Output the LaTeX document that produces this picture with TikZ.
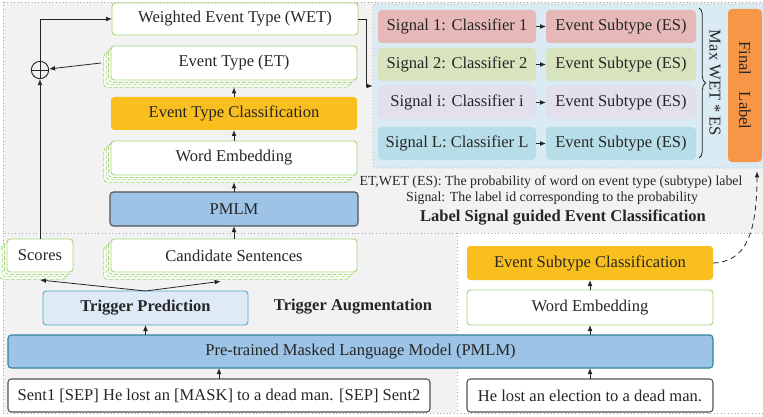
\documentclass[tikz,border=0pt]{standalone}
\usepackage{fontspec}
\setmainfont{Liberation Serif}
\usetikzlibrary{arrows.meta,decorations.pathreplacing}

\definecolor{areagray}{HTML}{F2F2F2}
\definecolor{areablue}{HTML}{DAEBF3}
\definecolor{linegreen}{HTML}{A3D67A}
\definecolor{clsorange}{HTML}{F9BF1E}
\definecolor{lmblue}{HTML}{9DC3E6}
\definecolor{lmedge}{HTML}{31849B}
\definecolor{tpfill}{HTML}{DEEBF7}
\definecolor{tpedge}{HTML}{4BACC6}
\definecolor{sigred}{HTML}{E6B9B8}
\definecolor{siggreen}{HTML}{D7E4BD}
\definecolor{sigviolet}{HTML}{E4DFEC}
\definecolor{sigcyan}{HTML}{B7DEE8}
\definecolor{finalorange}{HTML}{F79646}
\definecolor{ink}{HTML}{262626}

\tikzset{
  every node/.style={text=ink},
  box/.style={rectangle, rounded corners=2.5pt, inner sep=0pt, outer sep=0pt,
    font=\fontsize{12.4}{14}\selectfont},
  wd/.style={minimum width={0.75*#1}},
  ht/.style={minimum height={0.75*#1}},
  gbox/.style={box, draw=linegreen, fill=white, line width=0.7pt},
  obox/.style={box, fill=clsorange},
  lmbox/.style={box, fill=lmblue, draw=#1, line width=0.8pt},
  sentbox/.style={box, fill=white, draw=ink!80, line width=0.8pt},
  sigbox/.style={box, fill=#1, rounded corners=3pt},
  layer/.style={draw=linegreen, fill=white, line width=0.6pt,
    dash pattern=on 3pt off 1.2pt, rounded corners=2.5pt},
  area/.style={draw=black!35, line width=0.6pt, dotted},
  arr/.style={-{Latex[length=4.5pt,width=3.6pt]}, line width=0.6pt, draw=ink},
  note/.style={inner sep=0pt, font=\fontsize{10.4}{12}\selectfont},
  heading/.style={inner sep=0pt, font=\fontsize{12.4}{14}\selectfont\bfseries}
}

% dashed copies stacked behind a box given by its corners
\newcommand{\layerbox}[4]{%
  \foreach \k in {3,2,1}
    \draw[layer, shift={(-2.4*\k,2.4*\k)}] (#1,#2) rectangle (#3,#4);%
}

\begin{document}
\begin{tikzpicture}[x=0.75pt,y=-0.75pt]
\useasboundingbox (0,0) rectangle (763,417);

% areas
\draw[area, fill=areagray] (3,2) rectangle (766,233);
\draw[area, fill=areagray] (3,233) rectangle (457,413);
\draw[area, fill=white] (457,233) rectangle (766,413);
\node[area, fill=areablue, rounded corners=2pt, inner sep=0pt, wd=393, ht=164] (sigarea) at (569.5,86) {};

% event type branch
\node[gbox, wd=246, ht=32] (wet) at (235,19) {Weighted Event Type (WET)};
\layerbox{111}{46}{357}{80}
\node[gbox, wd=246, ht=34] (et) at (234,63) {Event Type (ET)};
\node[obox, wd=246, ht=33] (etc) at (234,113.5) {Event Type Classification};
\layerbox{111}{141}{357}{175}
\node[gbox, wd=246, ht=34] (we) at (234,158) {Word Embedding};
\node[lmbox=ink!80, wd=248, ht=34] (pmlm) at (234,209) {PMLM};

% weighting
\node[draw=ink, line width=0.7pt, circle, minimum size=13pt, inner sep=0pt] (sum) at (40,70) {};
\draw[line width=0.7pt, draw=ink] (sum.north) -- (sum.south) (sum.west) -- (sum.east);

% label signals
\foreach \n/\yy/\c/\s in {1/26.5/sigred/1, 2/64.5/siggreen/2, 3/102.5/sigviolet/i, 4/143.5/sigcyan/L}{
  \node[sigbox=\c, wd=158, ht=33] (sig\n) at (457,\yy) {Signal \s: Classifier \s};
  \node[sigbox=\c, wd=150, ht=33] (es\n) at (621,\yy) {Event Subtype (ES)};
  \draw[arr] (sig\n) -- (es\n);
}
\draw[decorate, decoration={brace, amplitude=5pt}, line width=0.6pt, draw=ink] (699,8) -- (699,158);
\node[box, rotate=-90] (maxes) at (715,83) {Max WET * ES};
\node[box, fill=finalorange, rounded corners=3pt, rotate=-90, wd=153, ht=34] (final) at (745,85.5) {Final\quad Label};

% notes
\node[note] (note1) at (551,182) {ET,WET (ES): The probability of word on event type (subtype) label};
\node[note] (note2) at (552,198) {Signal: The label id corresponding to the probability};
\node[heading] (lsec) at (563,218) {Label Signal guided Event Classification};

% trigger augmentation
\layerbox{7}{239}{73}{272}
\node[gbox, wd=66, ht=33] (scores) at (40,255.5) {Scores};
\layerbox{111}{239}{357}{272}
\node[gbox, wd=246, ht=33] (cand) at (234,255.5) {Candidate Sentences};
\node[box, fill=tpfill, draw=tpedge, line width=0.7pt, wd=205, ht=34,
  font=\fontsize{12.4}{14}\selectfont\bfseries] (tp) at (145.5,308) {Trigger Prediction};
\node[heading] (tasec) at (353,307) {Trigger Augmentation};
\node[lmbox=lmedge, wd=705, ht=33] (bigpmlm) at (360.5,351.5) {Pre-trained Masked Language Model (PMLM)};
\node[sentbox, wd=422, ht=33] (sent1) at (219,395.5) {Sent1 [SEP] He lost an [MASK] to a dead man. [SEP] Sent2};

% subtype branch
\node[obox, wd=246, ht=34] (esc) at (590,263) {Event Subtype Classification};
\node[gbox, wd=246, ht=35] (we2) at (590,307.5) {Word Embedding};
\node[sentbox, wd=246, ht=33] (sent2) at (590,395.5) {He lost an election to a dead man.};

% connectors
\draw[arr] (etc) -- ([yshift=-5.5pt]et.south);
\draw[arr] (we) -- (etc);
\draw[arr] (pmlm) -- ([yshift=-5.5pt]we.south);
\draw[arr] (cand) -- (pmlm);
\draw[arr] (scores) -- (sum);
\draw[arr] ([xshift=-7.5pt]et.west) -- (sum);
\draw[arr] (sum) |- (wet);
\draw[arr] (wet.east) -- ++(8,0) |- (sigarea.west);
\draw[arr] (tp.north) -- ([yshift=-6pt]scores.south);
\draw[arr] (tp.north) -- ([xshift=-10pt,yshift=-7pt]cand.south);
\draw[arr] (bigpmlm.north -| tp) -- (tp);
\draw[arr] (sent1) -- (sent1 |- bigpmlm.south);
\draw[arr] (sent2) -- (sent2 |- bigpmlm.south);
\draw[arr] (we2 |- bigpmlm.north) -- (we2);
\draw[arr] (we2) -- (esc);
\draw[arr, dash pattern=on 4pt off 3pt] (esc.east) .. controls (745,262) and (757,235) .. ([xshift=9pt,yshift=-7pt]final.east);
\end{tikzpicture}
\end{document}
